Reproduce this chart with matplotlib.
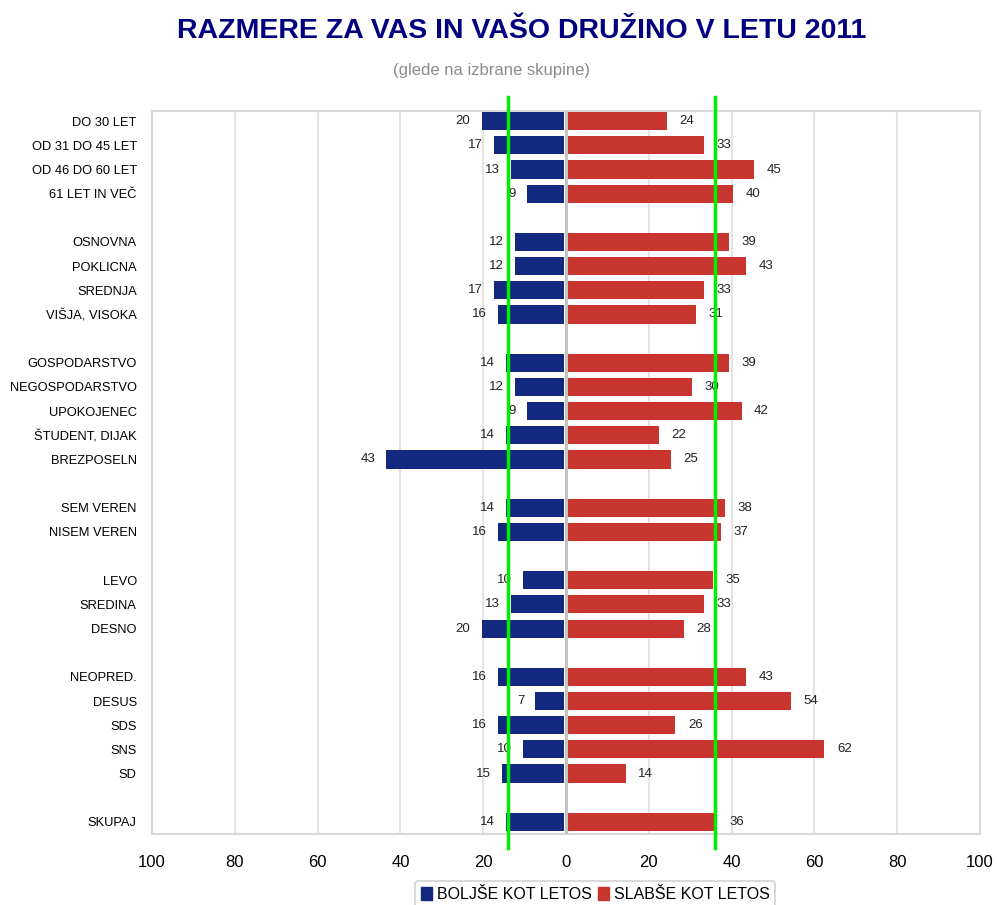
import numpy as np
import matplotlib
matplotlib.use('Agg')
import matplotlib.pyplot as plt
from matplotlib.patches import Patch

plt.rcParams['font.family'] = ['Liberation Sans', 'DejaVu Sans']

# podatki po skupinah (None = prazna vrstica)
categories = ['DO 30 LET', 'OD 31 DO 45 LET', 'OD 46 DO 60 LET', '61 LET IN VEČ', None,
              'OSNOVNA', 'POKLICNA', 'SREDNJA', 'VIŠJA, VISOKA', None,
              'GOSPODARSTVO', 'NEGOSPODARSTVO', 'UPOKOJENEC', 'ŠTUDENT, DIJAK', 'BREZPOSELN', None,
              'SEM VEREN', 'NISEM VEREN', None,
              'LEVO', 'SREDINA', 'DESNO', None,
              'NEOPRED.', 'DESUS', 'SDS', 'SNS', 'SD', None,
              'SKUPAJ']
bolje = [20, 17, 13, 9, None,
         12, 12, 17, 16, None,
         14, 12, 9, 14, 43, None,
         14, 16, None,
         10, 13, 20, None,
         16, 7, 16, 10, 15, None,
         14]
slabse = [24, 33, 45, 40, None,
          39, 43, 33, 31, None,
          39, 30, 42, 22, 25, None,
          38, 37, None,
          35, 33, 28, None,
          43, 54, 26, 62, 14, None,
          36]
total_bolje = 14
total_slabse = 36
xticks = [-100, -80, -60, -40, -20, 0, 20, 40, 60, 80, 100]

BLUE = '#13287f'
RED = '#c8352e'
GREEN = '#00ee00'

fig = plt.figure(figsize=(9.97, 9.05), dpi=100)
ax = fig.add_axes([0.1525, 0.0785, 0.8305, 0.7988])

ypos = np.arange(len(categories))
rows = [i for i, c in enumerate(categories) if c is not None]
b_vals = np.array([bolje[i] for i in rows], dtype=float)
s_vals = np.array([slabse[i] for i in rows], dtype=float)
y = ypos[rows]

ax.barh(y, -b_vals, left=-0.4, height=0.75, color=BLUE, zorder=3)
ax.barh(y, s_vals, left=0.4, height=0.75, color=RED, zorder=3)

for yy, b, s in zip(y, b_vals, s_vals):
    ax.annotate('%d' % b, (-b - 0.4, yy), xytext=(-8, 0), textcoords='offset points',
                ha='right', va='center', fontsize=9.5, color='#222222', zorder=5)
    ax.annotate('%d' % s, (s + 0.4, yy), xytext=(9, 0), textcoords='offset points',
                ha='left', va='center', fontsize=9.5, color='#222222', zorder=5)

ax.set_xlim(-100, 100)
ax.set_ylim(len(categories) - 0.5, -0.42)
ax.set_xticks(xticks)
ax.set_xticklabels([str(abs(t)) for t in xticks], fontsize=12)
ax.set_yticks(y)
ax.set_yticklabels([categories[i] for i in rows], fontsize=9.3)
ax.tick_params(axis='both', length=0)
ax.tick_params(axis='x', pad=15)
ax.tick_params(axis='y', pad=11)

ax.grid(axis='x', color='#e4e4e4', linewidth=1.5, zorder=0)
ax.axvline(0, color='#c4c4c4', linewidth=2.2, zorder=4)
for s in ax.spines.values():
    s.set_color('#d9d9d9')
    s.set_linewidth(1.5)

# zelene crte za skupno povprecje
for v in (-total_bolje, total_slabse):
    ax.axvline(v, ymin=-0.02, ymax=1.02, color=GREEN, linewidth=2.5, zorder=6, clip_on=False)

fig.text(0.523, 0.966, 'RAZMERE ZA VAS IN VAŠO DRUŽINO V LETU 2011', ha='center', va='center',
         fontsize=20.5, fontweight='bold', color='#000080')
fig.text(0.493, 0.922, '(glede na izbrane skupine)', ha='center', va='center',
         fontsize=12, color='#8c8c8c')

handles = [Patch(color=BLUE, label='BOLJŠE KOT LETOS'), Patch(color=RED, label='SLABŠE KOT LETOS')]
leg = fig.legend(handles=handles, loc='center', bbox_to_anchor=(0.597, 0.012), ncol=2,
                 fontsize=11.5, frameon=True, fancybox=True, handlelength=0.7, handleheight=0.9,
                 handletextpad=0.3, columnspacing=0.4, borderpad=0.35)
leg.get_frame().set_edgecolor('#c8c8c8')
leg.get_frame().set_linewidth(1.2)

fig.savefig('out.png', dpi=100)
